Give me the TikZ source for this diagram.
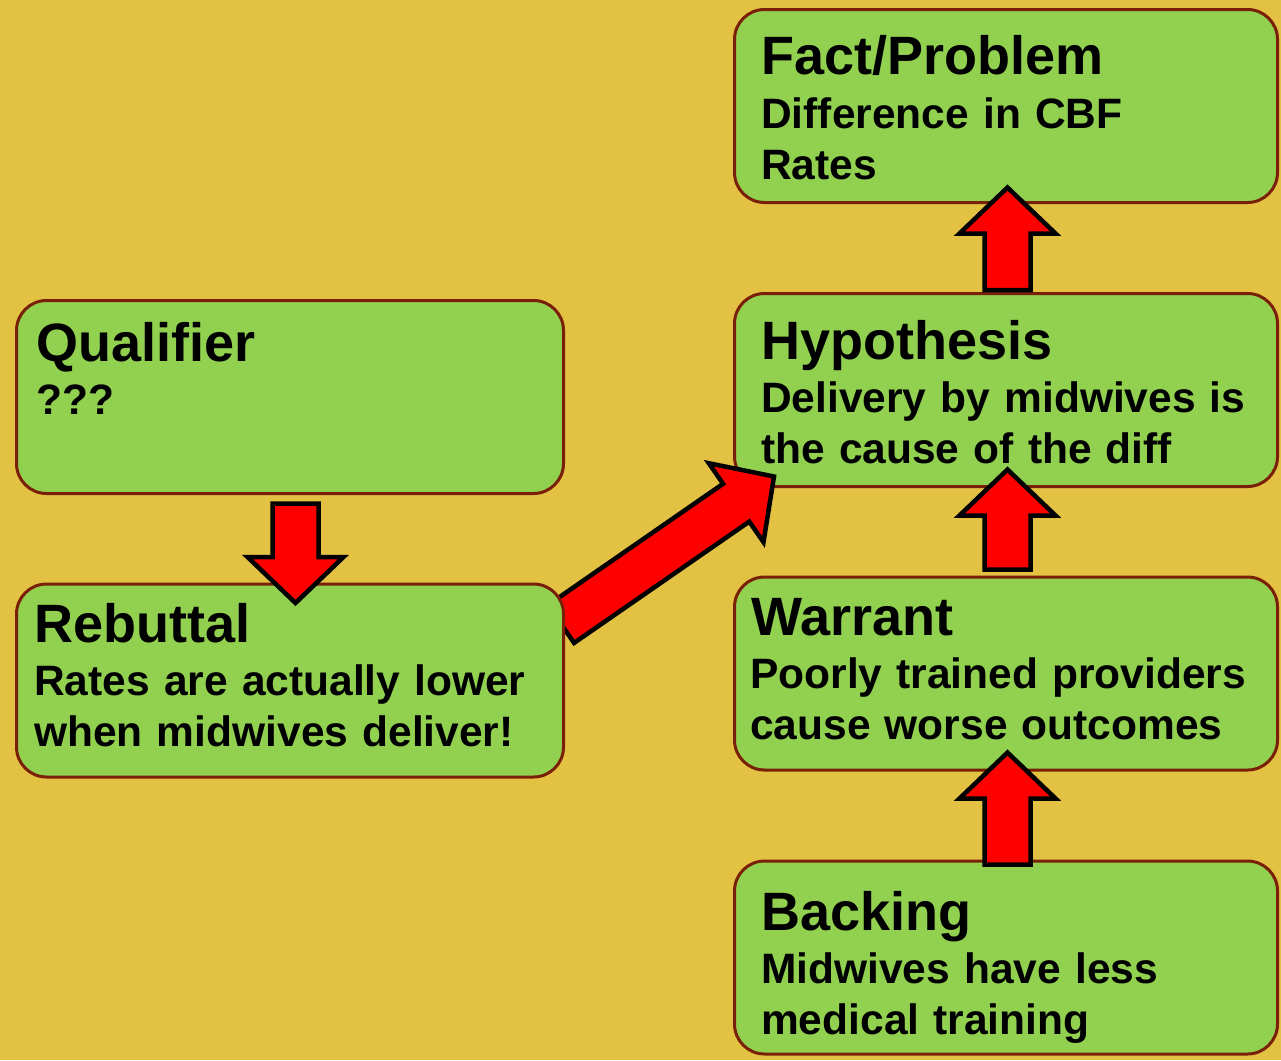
\documentclass[tikz,border=0pt]{standalone}
\usepackage{fontspec}
\setmainfont{Liberation Sans}
\usetikzlibrary{calc}

\definecolor{bggold}{RGB}{227,193,67}
\definecolor{boxgreen}{RGB}{146,208,80}
\definecolor{boxedge}{RGB}{122,32,8}

\newcommand{\titlefont}{\fontsize{54}{60}\bfseries\selectfont}
\newcommand{\bodyfont}{\fontsize{42.5}{51}\bfseries\selectfont}

% fat outlined arrow from #1 to #2
\newcommand{\blockarrow}[2]{%
  \draw [bigarrow] let \p1 = (#1), \p2 = (#2),
      \n1 = {atan2((\y2)-(\y1), (\x2)-(\x1))},
      \n2 = {veclen((\x2)-(\x1), (\y2)-(\y1))} in
    [shift={(\p1)}, rotate={\n1}]
    (0pt, -23pt) -- ({\n2-46pt}, -23pt) -- ({\n2-46pt}, -48pt) -- (\n2, 0pt)
    -- ({\n2-46pt}, 48pt) -- ({\n2-46pt}, 23pt) -- (0pt, 23pt) -- cycle;}

\pgfdeclarelayer{front}
\pgfsetlayers{main,front}

\begin{document}
\begin{tikzpicture}
  [x=1pt, y=1pt,
   box/.style={shape=rectangle, rounded corners=30pt, draw=boxedge, line width=3pt,
     fill=boxgreen, minimum width=543pt, minimum height=193pt, inner sep=0pt},
   boxtitle/.style={anchor=base west, inner sep=0pt, font=\titlefont},
   boxtext/.style={anchor=base west, inner sep=0pt, font=\bodyfont,
     text width=540pt, align=left},
   bigarrow/.style={draw=black, line width=4.5pt, fill=red}]
  \useasboundingbox (0,0) rectangle (1281,-1060);
  \fill [bggold] (0,0) rectangle (1281,-1060);

  % boxes
  \node (fact) [box] at (1006,-106) {};
  \node (hyp) [box] at (1006,-390) {};
  \node (warrant) [box] at (1006,-673.5) {};
  \node (backing) [box] at (1006,-957.5) {};
  \node (qual) [box, minimum width=547pt] at (290,-397) {};
  % rebuttal sits over the tail of its arrow
  \begin{pgfonlayer}{front}
    \node (reb) [box, minimum width=547pt] at (290,-680.5) {};
    \node (rebtitle) [boxtitle] at (34,-642) {Rebuttal};
    \node (rebtext) [boxtext] at (34,-695) {Rates are actually lower\\ when midwives deliver!};
  \end{pgfonlayer}

  % texts
  \node (facttitle) [boxtitle] at (761,-74) {Fact/Problem};
  \node (facttext) [boxtext] at (761,-128) {Difference in CBF\\ Rates};
  \node (hyptitle) [boxtitle] at (761,-359) {Hypothesis};
  \node (hyptext) [boxtext] at (761,-412) {Delivery by midwives is\\ the cause of the diff};
  \node (warranttitle) [boxtitle] at (751,-635) {Warrant};
  \node (warranttext) [boxtext] at (750,-688) {Poorly trained providers\\ cause worse outcomes};
  \node (backingtitle) [boxtitle] at (761,-930) {Backing};
  \node (backingtext) [boxtext] at (761,-983) {Midwives have less\\ medical training};
  \node (qualtitle) [boxtitle] at (36,-361) {Qualifier};
  \node (qualtext) [boxtext] at (36,-414) {???};

  % arrow ends
  \coordinate (b2w) at ($(backing.north)+(1.5,-5)$);
  \coordinate (w2b) at ($(warrant.south)+(1.5,19)$);
  \coordinate (w2h) at ($(warrant.north)+(1.5,6)$);
  \coordinate (h2w) at ($(hyp.south)+(1.5,18.5)$);
  \coordinate (h2f) at ($(hyp.north)+(1.5,2)$);
  \coordinate (f2h) at ($(fact.south)+(1.5,16.5)$);
  \coordinate (q2r) at ($(qual.south)+(5.5,-8.5)$);
  \coordinate (r2q) at ($(reb.north)+(5.5,-20.5)$);
  \coordinate (r2h) at ($(reb.east)+(-4,56.5)$);
  \coordinate (h2r) at ($(hyp.south west)+(41,11.5)$);

  \blockarrow{b2w}{w2b}
  \blockarrow{w2h}{h2w}
  \blockarrow{h2f}{f2h}
  \blockarrow{r2h}{h2r}
  \begin{pgfonlayer}{front}
    \blockarrow{q2r}{r2q}
  \end{pgfonlayer}
\end{tikzpicture}
\end{document}
